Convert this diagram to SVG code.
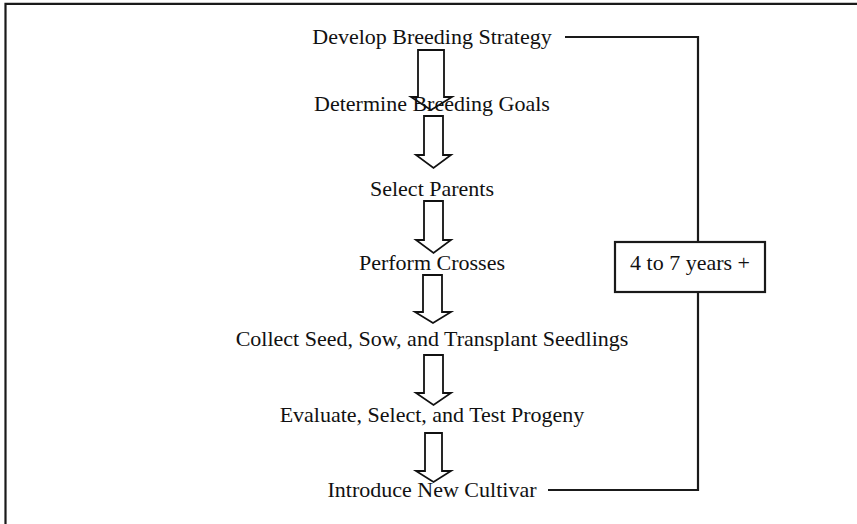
<svg xmlns="http://www.w3.org/2000/svg" width="857" height="524" viewBox="0 0 857 524">
<style>
.t{font-family:"Liberation Serif","Times New Roman",serif;font-size:22px;fill:#111;text-anchor:middle}
.ar{fill:#fff;stroke:#111;stroke-width:1.8;stroke-linejoin:miter}
.ln{fill:none;stroke:#1a1a1a;stroke-width:2.2}
</style>
<rect width="857" height="524" fill="#fff"/>
<g id="frame"><path class="ln" d="M5.5 524 V3.8 H857" stroke-width="2.6"/></g>
<g id="connectors">
<path id="a1" class="ar" d="M418 50 H444 V97 H452 L431 110 L411 97 H418 Z"/>
<path id="a2" class="ar" d="M424 116 H443 V155 H451 L433.5 168 L416 155 H424 Z"/>
<path id="a3" class="ar" d="M424 201 H443 V240 H451 L433.5 253 L416 240 H424 Z"/>
<path id="a4" class="ar" d="M423 275 H442 V312 H451 L433 323 L415 312 H423 Z"/>
<path id="a5" class="ar" d="M424 355 H443 V393 H451 L433.5 405 L416 393 H424 Z"/>
<path id="a6" class="ar" d="M425 433 H442 V471 H451 L433.5 482 L416 471 H425 Z"/>
<path id="loop" class="ln" d="M565 37 H698 V242 M698 292 V490 H548"/>
</g>
<g id="n1"><text class="t" x="432" y="44">Develop Breeding Strategy</text></g>
<g id="n2"><text class="t" x="432" y="111">Determine Breeding Goals</text></g>
<g id="n3"><text class="t" x="432" y="196">Select Parents</text></g>
<g id="n4"><text class="t" x="432" y="270">Perform Crosses</text></g>
<g id="n5"><text class="t" x="432" y="346">Collect Seed, Sow, and Transplant Seedlings</text></g>
<g id="n6"><text class="t" x="432" y="422">Evaluate, Select, and Test Progeny</text></g>
<g id="n7"><text class="t" x="432" y="497">Introduce New Cultivar</text></g>
<g id="box"><rect x="615" y="242" width="150" height="50" fill="#fff" stroke="#1a1a1a" stroke-width="2.2"/><text class="t" x="690" y="270">4 to 7 years +</text></g>
</svg>
